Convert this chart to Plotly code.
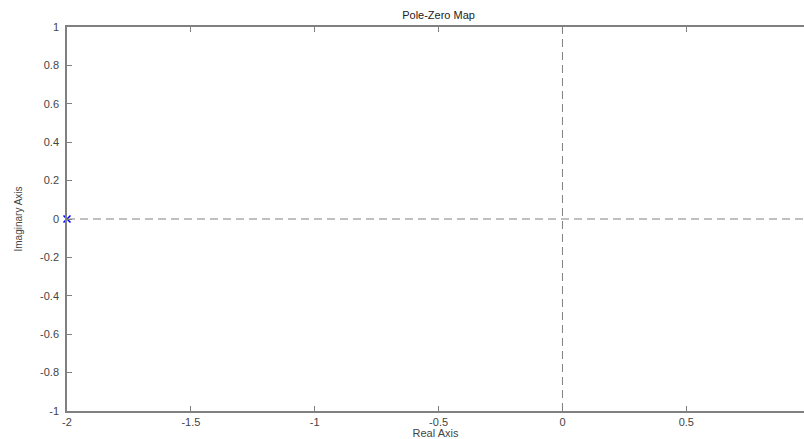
import plotly.graph_objects as go

pole_real = [-2.0]
pole_imag = [0.0]
x_ticks = [-2, -1.5, -1, -0.5, 0, 0.5]
x_tick_labels = ["-2", "-1.5", "-1", "-0.5", "0", "0.5"]
y_ticks = [-1, -0.8, -0.6, -0.4, -0.2, 0, 0.2, 0.4, 0.6, 0.8, 1]
y_tick_labels = ["-1", "-0.8", "-0.6", "-0.4", "-0.2", "0", "0.2", "0.4", "0.6", "0.8", "1"]
x_range = [-2, 0.975]
y_range = [-1, 1]

fig = go.Figure()
fig.add_trace(go.Scatter(
    x=pole_real, y=pole_imag, mode="markers",
    marker=dict(symbol="x-thin", size=7, line=dict(color="#0000ff", width=1.5)),
    cliponaxis=False, showlegend=False,
))

axis_font = dict(family="Liberation Sans, Arial, sans-serif", size=11, color="#444444")
fig.update_layout(
    width=804, height=439,
    margin=dict(l=67, r=0, t=27, b=28),
    paper_bgcolor="white", plot_bgcolor="white",
    title=dict(text="Pole-Zero Map", x=0.5455, xanchor="center", y=0.966, yanchor="middle",
               font=dict(family="Liberation Sans, Arial, sans-serif", size=11, color="#222222")),
    xaxis=dict(range=x_range, tickvals=x_ticks, ticktext=x_tick_labels,
               showgrid=False, zeroline=False, showline=True, linecolor="#808080", linewidth=1.5,
               mirror="ticks", ticks="inside", ticklen=5, tickcolor="#808080",
               ticklabelstandoff=0,
               tickfont=axis_font, title=dict(text="Real Axis", font=axis_font, standoff=0)),
    yaxis=dict(range=y_range, tickvals=y_ticks, ticktext=y_tick_labels,
               showgrid=False, zeroline=False, showline=True, linecolor="#808080", linewidth=1.5,
               ticks="inside", ticklen=5, tickcolor="#808080",
               ticklabelstandoff=4,
               tickfont=axis_font, title=dict(text="Imaginary Axis", font=dict(family="Liberation Sans, Arial, sans-serif", size=10, color="#444444"), standoff=16)),
    shapes=[
        dict(type="line", xref="x", yref="paper", x0=0, x1=0, y0=0, y1=1,
             line=dict(color="#808080", width=1, dash="8px,5px")),
        dict(type="line", xref="paper", yref="y", x0=0, x1=1, y0=0, y1=0,
             line=dict(color="#808080", width=1, dash="8px,5px")),
    ],
)
fig.write_html("out.html")
